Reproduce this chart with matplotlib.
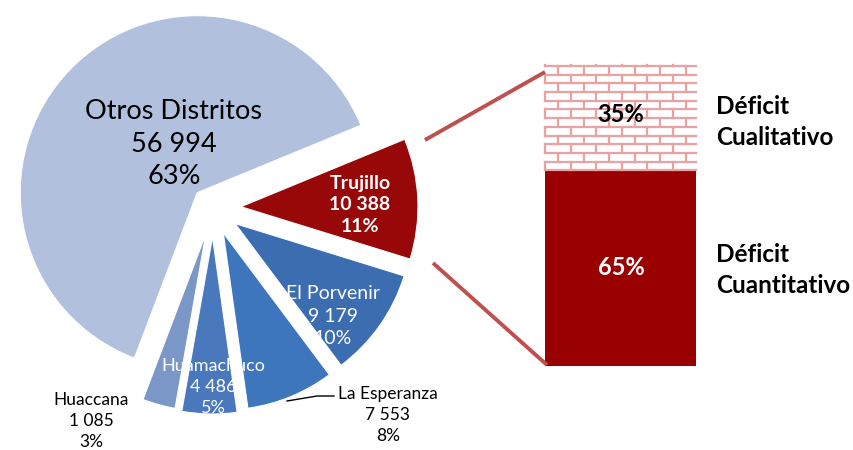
import numpy as np
import matplotlib.pyplot as plt

plt.rcParams['font.family'] = ['Lato', 'DejaVu Sans']

# ---------------------------------------------------------
# Data
# ---------------------------------------------------------
districts = ["Otros Distritos", "Trujillo", "El Porvenir", "La Esperanza",
             "Huamachuco", "Huaccana"]
counts = ["56 994", "10 388", "9 179", "7 553", "4 486", "1 085"]
shares = [63, 11, 10, 8, 5, 3]

deficit_types = ["Déficit\nCuantitativo", "Déficit\nCualitativo"]
deficit_shares = [65, 35]

# ---------------------------------------------------------
# Figure in pixel units (854 x 450)
# ---------------------------------------------------------
fig = plt.figure(figsize=(8.54, 4.5), dpi=100)
ax = fig.add_axes([0, 0, 1, 1])

slice_colors = ["#b0c0dd", "#980808", "#3b6db0", "#3d76bd", "#4a78bc", "#7b97c8"]
explode = [22, 28, 27, 27, 29, 27]

wedges, _ = ax.pie(shares, explode=explode, radius=177, center=(213, 242),
                   startangle=22.4 + shares[0] * 3.6, counterclock=False,
                   colors=slice_colors,
                   wedgeprops=dict(edgecolor="white", linewidth=0.8))

# slice labels
ax.text(174, 306, f"{districts[0]}\n{counts[0]}\n{shares[0]}%", ha="center",
        va="center", fontsize=19.5, color="black", linespacing=1.38)
ax.text(360, 245, f"{districts[1]}\n{counts[1]}\n{shares[1]}%", ha="center",
        va="center", fontsize=14, color="white", fontweight="bold", linespacing=1.35)
ax.text(333, 134, f"{districts[2]}\n{counts[2]}\n{shares[2]}%", ha="center",
        va="center", fontsize=14, color="white", linespacing=1.38)
ax.text(388, 35, f"{districts[3]}\n{counts[3]}\n{shares[3]}%", ha="center",
        va="center", fontsize=12.5, color="black", linespacing=1.35)
ax.text(213, 63, f"{districts[4]}\n{counts[4]}\n{shares[4]}%", ha="center",
        va="center", fontsize=13, color="white", linespacing=1.38)
ax.text(91, 29, f"{districts[5]}\n{counts[5]}\n{shares[5]}%", ha="center",
        va="center", fontsize=12.5, color="black", linespacing=1.4)

# leader line for La Esperanza
ax.plot([287, 317, 334], [49, 54, 54], color="black", lw=1)

# ---------------------------------------------------------
# Stacked bar for Trujillo
# ---------------------------------------------------------
bar_x, bar_w, bar_bottom, bar_h = 621, 151, 84, 301
low_h = bar_h * deficit_shares[0] / 100
up_h = bar_h * deficit_shares[1] / 100

ax.bar(bar_x, low_h, width=bar_w, bottom=bar_bottom, color="#990000")
up = ax.bar(bar_x, up_h, width=bar_w, bottom=bar_bottom + low_h,
            color="white")[0]

# brick pattern in the upper segment
x0, x1 = bar_x - bar_w / 2, bar_x + bar_w / 2
y0, y1 = bar_bottom + low_h, bar_bottom + bar_h
row_h, brick_w = 8.7, 25.5
brick_col = "#e8a2a2"
ys = np.arange(y0, y1 + row_h, row_h)
for i, yb in enumerate(ys[:-1]):
    yt = min(yb + row_h, y1)
    ax.plot([x0, x1], [yb, yb], color=brick_col, lw=1.6, clip_path=up)
    offset = 0 if i % 2 == 0 else brick_w / 2
    for xv in np.arange(x0 + offset, x1 + 1, brick_w):
        ax.plot([xv, xv], [yb, yt], color=brick_col, lw=1.6, clip_path=up)

ax.text(bar_x, bar_bottom + low_h + up_h / 2 + 3, f"{deficit_shares[1]}%",
        ha="center", va="center", fontsize=17, fontweight="bold", color="black")
ax.text(bar_x, bar_bottom + low_h / 2 + 1, f"{deficit_shares[0]}%",
        ha="center", va="center", fontsize=17, fontweight="bold", color="white")

ax.text(716, 328, deficit_types[1], ha="left", va="center", fontsize=17.5,
        fontweight="bold", linespacing=1.4)
ax.text(716, 180, deficit_types[0], ha="left", va="center", fontsize=17.5,
        fontweight="bold", linespacing=1.4)

# connector lines
ax.plot([425, 545], [310, 378], color="#c0504d", lw=2.8, solid_capstyle="butt")
ax.plot([433, 547], [187, 85], color="#c0504d", lw=2.8, solid_capstyle="butt")

ax.set_xlim(0, 854)
ax.set_ylim(0, 450)
ax.set_aspect("auto")
ax.axis("off")

fig.savefig("out.png", dpi=100)
